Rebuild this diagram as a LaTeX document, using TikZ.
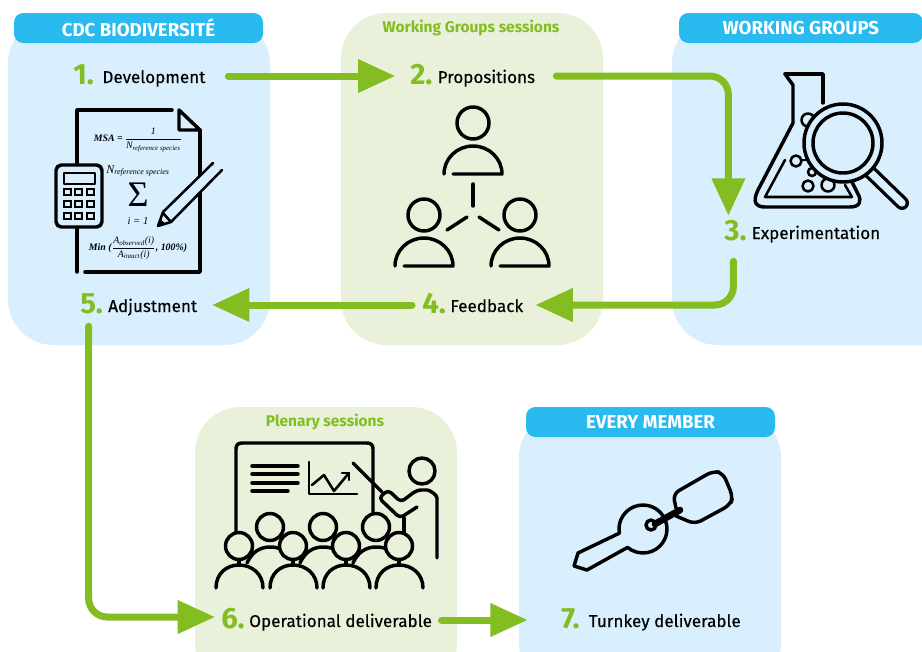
\documentclass[tikz,border=0pt]{standalone}
\usepackage{amsmath}
\usepackage[no-math]{fontspec}
\setmainfont{Fira Sans}
\newfontfamily\formfont{Liberation Serif}
\newfontfamily\labelfont[FakeBold=0.25]{Fira Sans}
\usetikzlibrary{arrows.meta,calc,positioning}
\definecolor{panelblue}{HTML}{D9EFFD}
\definecolor{panelgreen}{HTML}{E9F1DA}
\definecolor{pillblue}{HTML}{29BAEF}
\definecolor{flowgreen}{HTML}{84BD21}
\newcommand{\fbi}[1]{\text{\formfont\itshape\bfseries #1}}
\newcommand{\fit}[1]{\text{\formfont\itshape #1}}
\tikzset{
  bluepanel/.style={fill=panelblue, rounded corners=34pt},
  greenpanel/.style={fill=panelgreen, rounded corners=34pt},
  titlepill/.style={fill=pillblue, text=white, rounded corners=7pt, minimum width=186.75pt, minimum height=22.5pt, inner sep=0pt, font=\fontsize{14}{16}\selectfont\bfseries},
  sessiontitle/.style={text=flowgreen, inner sep=0pt, font=\fontsize{11.6}{13}\selectfont\bfseries},
  stepnum/.style={text=flowgreen, anchor=west, inner sep=0pt, text height=12pt, text depth=0pt, font=\fontsize{22}{24}\selectfont\bfseries},
  steptext/.style={inner sep=0pt, text height=11pt, text depth=.5pt, font=\fontsize{12.8}{15}\selectfont\labelfont},
  flow/.style={draw=flowgreen, line width=5.25pt, rounded corners=14pt, line cap=round, -{Triangle[length=28pt,width=24pt]}},
  icon/.style={line width=2.6pt, line cap=round, line join=round},
  thinicon/.style={line width=1.9pt, line cap=round, line join=round},
  formula/.style={inner sep=0pt, font=\fontsize{7.4}{9}\selectfont}
}
\begin{document}
\begin{tikzpicture}[x=.75pt,y=-.75pt]
\useasboundingbox (0,0) rectangle (922,651);
\fill[bluepanel] (8,18) rectangle (270,345);
\fill[greenpanel] (341,13) rectangle (603,345);
\fill[bluepanel] (672,18) rectangle (970,345);
\fill[greenpanel] (195,407) rectangle (457,690);
\fill[bluepanel] (519,412) rectangle (781,690);

\node[titlepill] (cdc) at (138.5,28) {CDC BIODIVERSITÉ};
\node[titlepill, minimum width=183pt] (wgroups) at (801,28) {WORKING GROUPS};
\node[titlepill] (member) at (650.5,422) {EVERY MEMBER};
\node[sessiontitle] (wgsessions) at (471,28) {Working Groups sessions};
\node[sessiontitle] (plenary) at (325,422) {Plenary sessions};

\node[stepnum] (n1) at (73,76) {1.};
\node[steptext, right=6pt of n1] (t1) {Development};
\node[stepnum] (n2) at (410,76) {2.};
\node[steptext, right=3.5pt of n2] (t2) {Propositions};
\node[stepnum] (n3) at (724,232) {3.};
\node[steptext, right=3.5pt of n3] (t3) {Experimentation};
\node[stepnum] (n4) at (422,305) {4.};
\node[steptext, right=3pt of n4] (t4) {Feedback};
\node[stepnum] (n5) at (80,305) {5.};
\node[steptext, right=3.5pt of n5] (t5) {Adjustment};
\node[stepnum] (n6) at (221,620) {6.};
\node[steptext, right=3pt of n6] (t6) {Operational deliverable};
\node[stepnum] (n7) at (561,620) {7.};
\node[steptext, right=6.5pt of n7] (t7) {Turnkey deliverable};

\draw[flow, shorten <=17pt, shorten >=11pt] (t1.east) -- (n2.west);
\draw[flow] ($(t2.east)+(21,0)$) -| ($(n3.north)+(-7,-8)$);
\draw[flow, shorten >=9pt] ($(n3.south)+(-2,21)$) |- (t4.east);
\draw[flow, shorten <=7.5pt, shorten >=11pt] (n4.west) -- (t5.east);
\draw[flow] ($(n5.south)+(-3,13)$) |- ($(n6.west)+(-6,-3)$);
\draw[flow, shorten <=7pt, shorten >=25pt] (t6.east) -- (n7.west);

\draw[icon] (77,164) -- (77,110) -- (172,110);
\draw[icon] (77,227) -- (77,272);
\draw[icon] (85,272) -- (200,272) -- (200,130);
\draw[icon] (179,110) -- (200,130) -- (179,130) -- cycle;
\fill[panelblue] (213,163) -- (222,170) -- (169,223) -- (163,212) -- cycle;
\draw[thinicon] (213,163) -- (163,212) -- (158,226) -- (171,222) -- (222,170);
\draw[thinicon] (163,213) -- (171,222);
\fill (158,226) -- (160,219) -- (166,224) -- cycle;
\draw[icon, fill=panelblue, rounded corners=4pt] (56,165) rectangle (102,227);
\draw[thinicon] (64,173) rectangle (95,184);
\foreach \row in {189,201,213}
  \foreach \col in {64,75,87}
    \draw[line width=2.2pt] (\col,\row) rectangle +(7,6);
\node[formula] (msa) at (138,140) {$\fbi{MSA =}\,\dfrac{\fit{1}}{\fit{N}_{\fit{reference species}}}$};
\node[formula, font=\fontsize{9}{10}\selectfont] (nref) at (138,171) {$\fit{N}_{\fit{reference species}}$};
\node[inner sep=0pt, font=\fontsize{27}{29}\selectfont\formfont] (sum) at (138,195) {Σ};
\node[formula, font=\fontsize{8}{9}\selectfont] (ione) at (138,221) {\formfont\itshape i = 1};
\node[formula] (minf) at (138,248) {$\fbi{Min (}\dfrac{\fit{A}_{\fit{observed}}\fit{(i)}}{\fit{A}_{\fit{intact}}\fit{(i)}}\fbi{, 100\%)}$};

\foreach \cx/\cy in {473/123,424/215,520/215}{
  \draw[icon] (\cx,\cy) circle[radius=16];
  \draw[icon] (\cx-29,\cy+51) arc[start angle=180,end angle=360,x radius=29,y radius=28] -- (\cx-20,\cy+51);
}
\draw[icon] (473,184) -- (473,206);
\draw[icon] (467,217) -- (447,230);
\draw[icon] (479,217) -- (499,230);

\draw[icon] (785,74) -- (823,74) -- (823,103);
\draw[icon] (785,74) -- (793,85) -- (793,123) -- (758,190) .. controls (752,202) and (756,207) .. (765,207) -- (850,207) .. controls (860,207) and (862,201) .. (858,194) -- (852,182);
\draw[thinicon] (785,160) -- (765,197) -- (852,197) -- (845,185);
\draw[thinicon] (802,160) -- (808,160);
\draw[thinicon] (796,161) circle[radius=5.5];
\draw[thinicon] (808,186) circle[radius=5.5];
\draw[thinicon] (812,172) circle[radius=4];
\draw[thinicon] (808,120) circle[radius=6.5];
\draw[thinicon] (828,185) circle[radius=6.5];
\draw[line width=10.5pt, line cap=round] (870,172) -- (902,203);
\draw[line width=5.5pt, panelblue, line cap=round] (870,172) -- (902,203);
\draw[icon, fill=panelblue] (843,143) circle[radius=39];
\draw[icon, fill=panelblue] (843,143) circle[radius=30];

\draw[icon] (236,533) -- (236,449) .. controls (236,445) and (238,443) .. (242,443) -- (367,443) .. controls (371,443) and (373,445) .. (373,449) -- (373,513);
\foreach \ly/\lx in {466/298,474/298,483/298,491/288}
  \draw[icon] (252,\ly) -- (\lx,\ly);
\draw[thinicon] (309,462) -- (309,494) -- (357,494);
\draw[thinicon] (312,485) -- (324,475) -- (334,491) -- (349,473);
\draw[thinicon] (342,473) -- (349,473) -- (349,480);
\draw[icon] (353,463) -- (382,492);
\draw[icon] (422,471) circle[radius=13];
\draw[icon, rounded corners=3pt] (437,558) -- (437,502) .. controls (437,495) and (430,490) .. (423,490) -- (417,490) -- (401,502) -- (388,490) -- (379,498) -- (400,518) -- (417,507);
\draw[icon] (404,518) -- (404,533);
\foreach \hx in {270,323,376}{
  \draw[icon] (\hx,527) circle[radius=13.5];
  \draw[icon] (\hx-23,563) .. controls (\hx-18,552) and (\hx-10,547) .. (\hx,547) .. controls (\hx+5,547) and (\hx+9,548) .. (\hx+10,549);
}
\foreach \hx in {239,293,346,399}{
  \draw[icon] (\hx,546) circle[radius=13.5];
  \draw[icon] (\hx-23,588) .. controls (\hx-23,574) and (\hx-13,565) .. (\hx,565) .. controls (\hx+13,565) and (\hx+24,574) .. (\hx+24,588);
  \draw[icon] (\hx,560) -- (\hx,565);
}

\draw[icon] (643,529) ++(170:24) arc[start angle=170,end angle=490,radius=24] -- (587,570) -- (574,566) -- (578,553) -- cycle;
\draw[icon] (651,525) circle[radius=5];
\draw[line width=5pt, line cap=round] (655,524) -- (680,510);
\draw[icon, rounded corners=5pt] (676,508) -- (673,494) -- (713,471) -- (723,473) -- (733,497) -- (730,505) -- (695,524) -- (676,516);
\end{tikzpicture}
\end{document}
